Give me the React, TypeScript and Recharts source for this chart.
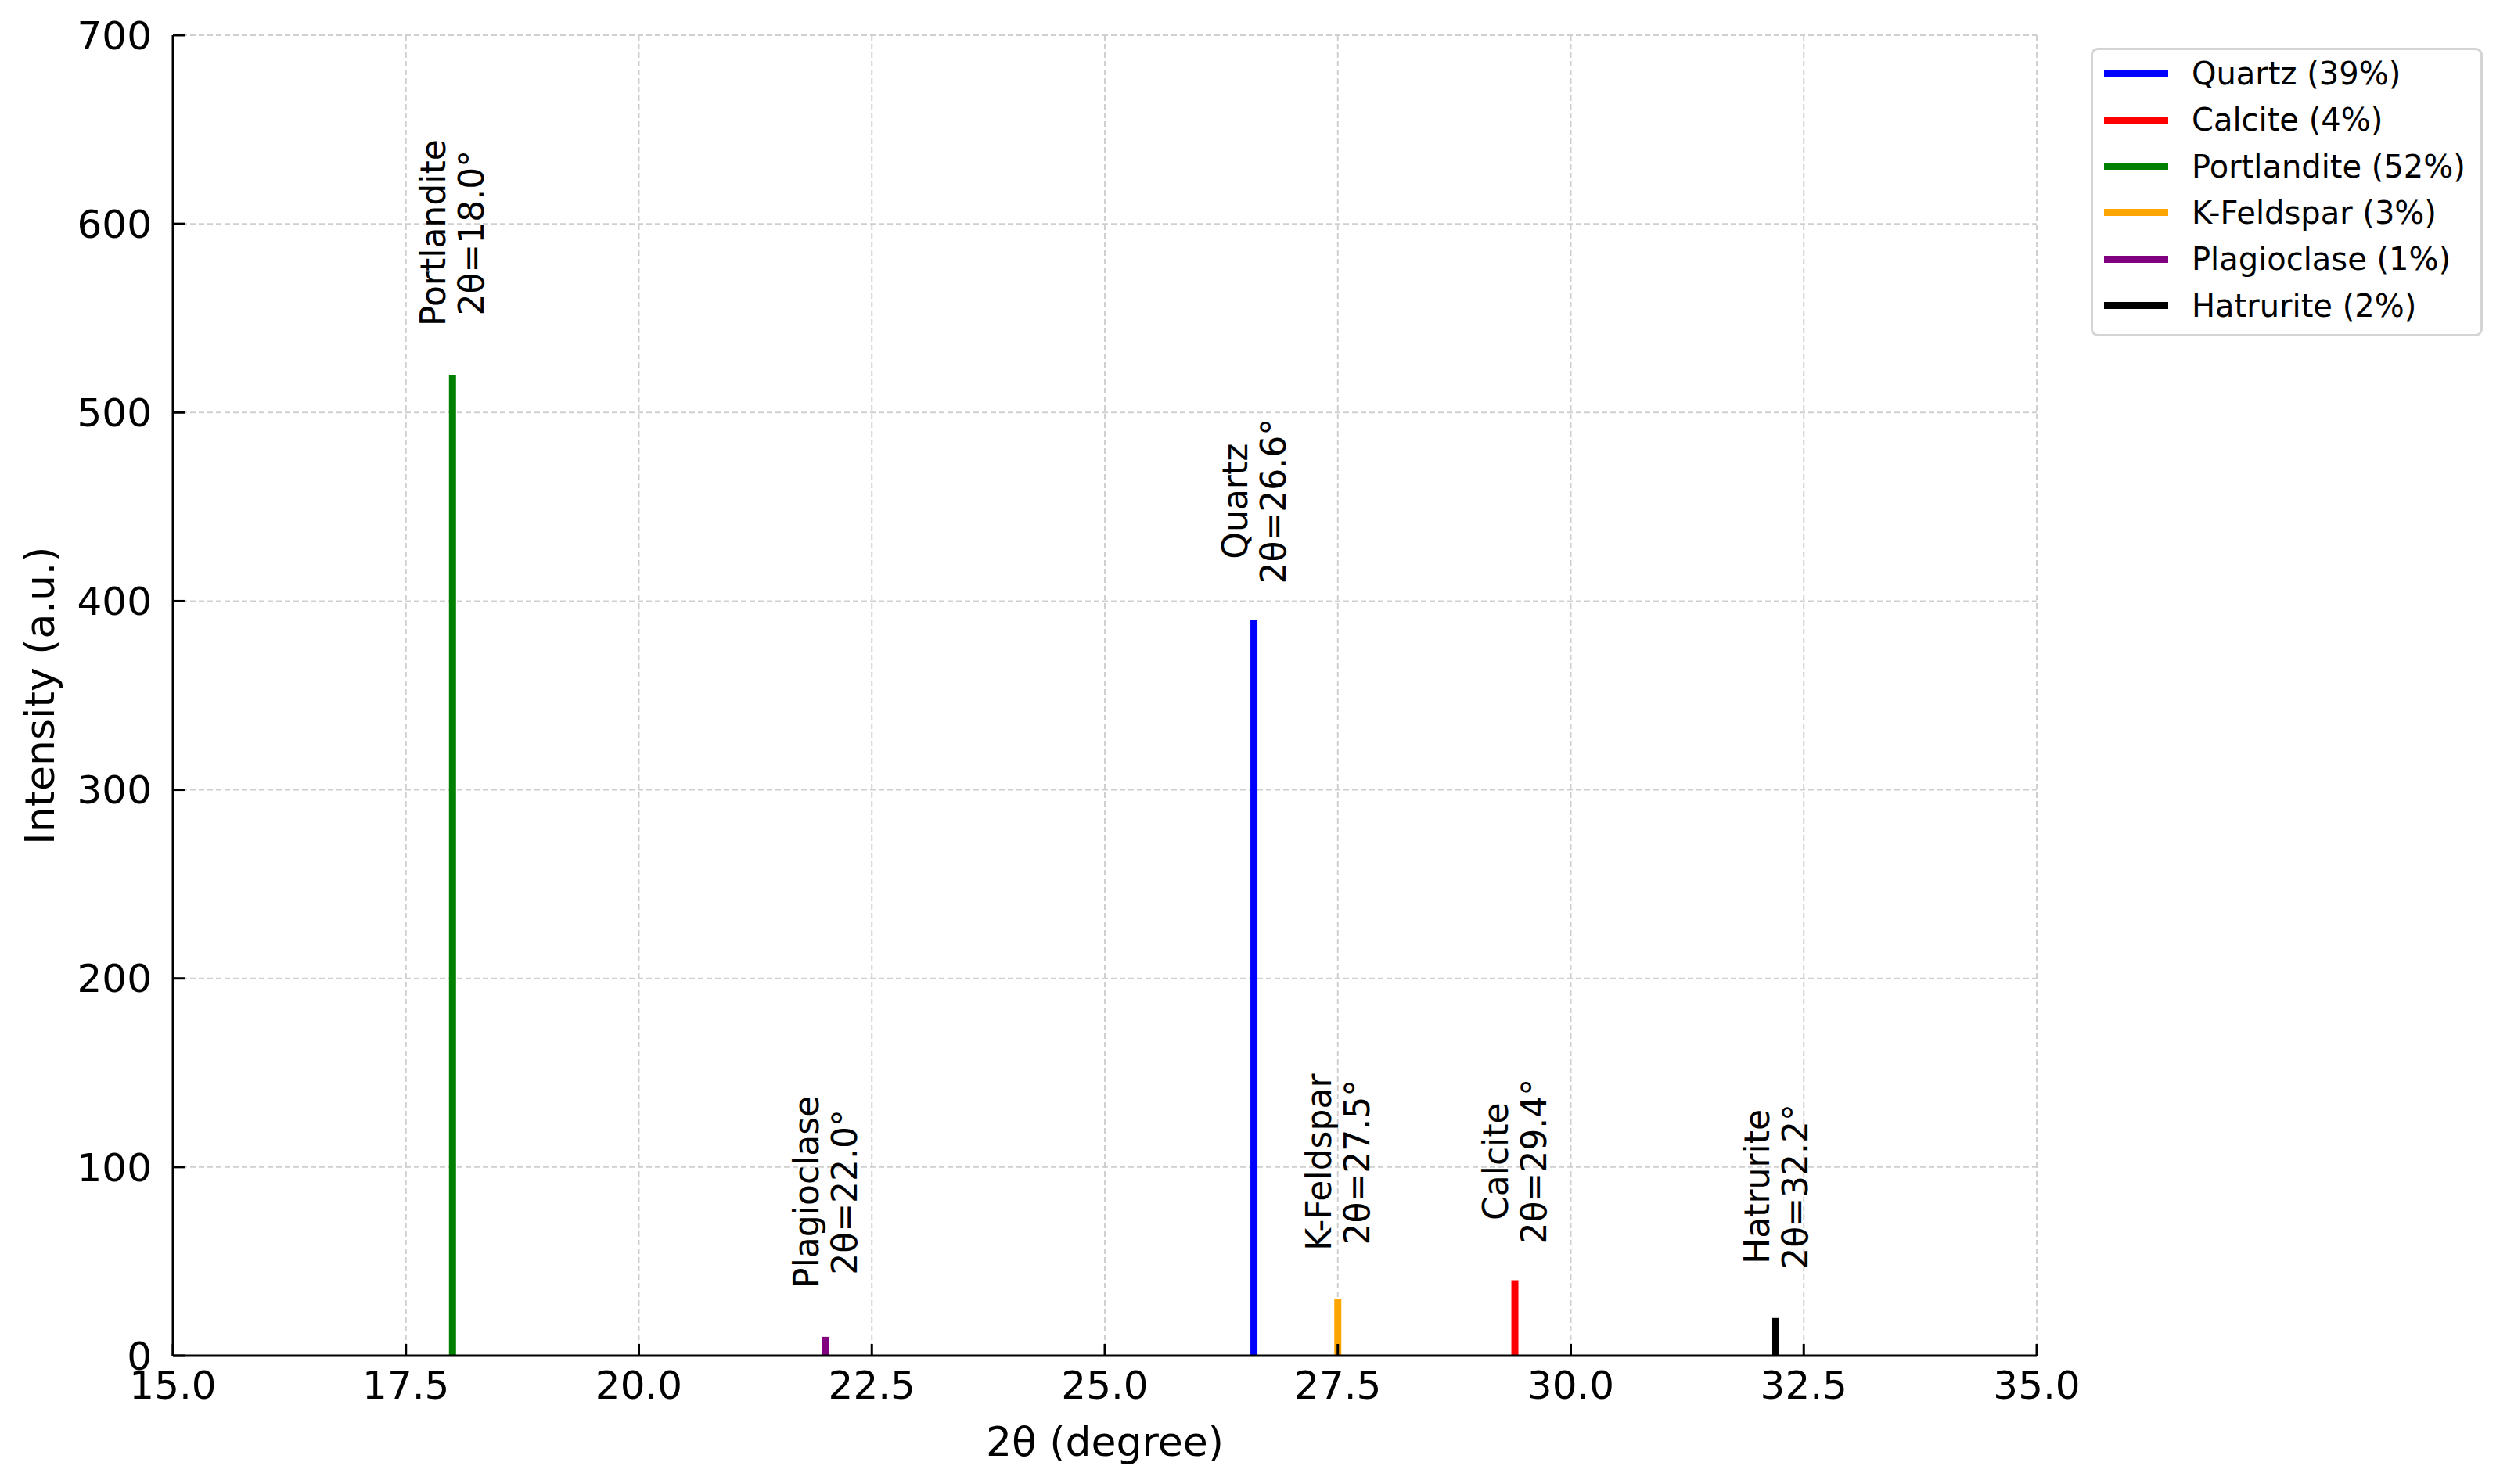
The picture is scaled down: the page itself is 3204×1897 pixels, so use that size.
import React from 'react';
import { LineChart, Line, XAxis, YAxis, CartesianGrid, Legend, Label } from 'recharts';

// ---- data ----
const minerals = ['Quartz', 'Calcite', 'Portlandite', 'K-Feldspar', 'Plagioclase', 'Hatrurite'];
const peakPositions = [26.6, 29.4, 18.0, 27.5, 22.0, 32.2];
const peakIntensities = [390, 40, 520, 30, 10, 20];
const percentages = [39, 4, 52, 3, 1, 2];
const colors = ['#0000ff', '#ff0000', '#008000', '#ffa500', '#800080', '#000000'];
const xTicks = [15.0, 17.5, 20.0, 22.5, 25.0, 27.5, 30.0, 32.5, 35.0];
const yTicks = [0, 100, 200, 300, 400, 500, 600, 700];
const xLabel = '2θ (degree)';
const yLabel = 'Intensity (a.u.)';

// ---- layout / style ----
const W = 3204;
const H = 1897;
const PLOT_LEFT = 221;
const PLOT_TOP = 45;
const PLOT_RIGHT = 2603;
const PLOT_BOTTOM = 1733;
const FONT = '"DejaVu Sans", Verdana, sans-serif';
const ANN_FONT = 44;
const ANN_LINE_GAP = 49;
const LABEL_GAP: Record<string, number> = { Quartz: 46, Calcite: 46 };
const DEFAULT_GAP = 62;

let measureCtx: CanvasRenderingContext2D | null = null;
function textWidth(s: string, size: number) {
  if (!measureCtx) {
    const c = document.createElement('canvas');
    measureCtx = c.getContext('2d');
  }
  if (!measureCtx) return s.length * size * 0.6;
  measureCtx.font = `${size}px "DejaVu Sans"`;
  return measureCtx.measureText(s).width;
}

const series = minerals.map((name, i) => ({
  name,
  color: colors[i],
  pct: percentages[i],
  pos: peakPositions[i],
  data: [
    { x: peakPositions[i], y: 0 },
    { x: peakPositions[i], y: peakIntensities[i] },
  ],
}));

function makePeakLabel(name: string, pos: number) {
  return (props: any) => {
    const { x, y, index } = props;
    if (index !== 1 || x == null || y == null) return <g key={`e-${name}-${index}`} />;
    const l1 = name;
    const l2 = `2θ=${pos.toFixed(1)}°`;
    const lmax = Math.max(textWidth(l1, ANN_FONT), textWidth(l2, ANN_FONT));
    const gap = LABEL_GAP[name] ?? DEFAULT_GAP;
    const cy = y - gap - lmax / 2;
    const x1 = x - ANN_LINE_GAP / 2;
    const x2 = x + ANN_LINE_GAP / 2;
    return (
      <g key={`lab-${name}`}>
        <text
          x={x1}
          y={cy}
          transform={`rotate(-90, ${x1}, ${cy})`}
          textAnchor="middle"
          dominantBaseline="central"
          fontSize={ANN_FONT}
          fontFamily={FONT}
          fill="#000"
        >
          {l1}
        </text>
        <text
          x={x2}
          y={cy}
          transform={`rotate(-90, ${x2}, ${cy})`}
          textAnchor="middle"
          dominantBaseline="central"
          fontSize={ANN_FONT}
          fontFamily={FONT}
          fill="#000"
        >
          {l2}
        </text>
      </g>
    );
  };
}

const LegendBox = () => {
  const rowH = 59.3;
  return (
    <div
      style={{
        boxSizing: 'border-box',
        width: 501,
        height: 369,
        border: '3px solid #d4d4d4',
        borderRadius: 9,
        background: '#fff',
        position: 'relative',
        fontFamily: FONT,
        fontSize: 40,
        color: '#000',
      }}
    >
      {series.map((s, i) => {
        const cy = 30 + i * rowH;
        return (
          <div key={s.name}>
            <div
              style={{
                position: 'absolute',
                left: 14,
                top: cy - 4.5,
                width: 82,
                height: 9,
                background: s.color,
              }}
            />
            <div
              style={{
                position: 'absolute',
                left: 126,
                top: cy - 30,
                height: 60,
                lineHeight: '60px',
                whiteSpace: 'nowrap',
              }}
            >
              {`${s.name} (${s.pct}%)`}
            </div>
          </div>
        );
      })}
    </div>
  );
};

export default function App() {
  const plotH = PLOT_BOTTOM - PLOT_TOP;
  return (
    <div style={{ position: 'absolute', left: 0, top: 0, width: W, height: H, background: '#fff', fontFamily: FONT }}>
      <LineChart
        width={W}
        height={H}
        margin={{ top: PLOT_TOP, right: W - PLOT_RIGHT, left: 0, bottom: 0 }}
      >
        <CartesianGrid stroke="#cfcfcf" strokeWidth={2} strokeDasharray="7 4" />
        <XAxis
          dataKey="x"
          type="number"
          domain={[15, 35]}
          ticks={xTicks}
          allowDataOverflow
          height={H - PLOT_BOTTOM}
          tickFormatter={(v: number) => v.toFixed(1)}
          tick={{ fill: '#000', fontSize: 50, fontFamily: FONT }}
          axisLine={{ stroke: '#000', strokeWidth: 3 }}
          tickLine={{ stroke: '#000', strokeWidth: 3 }}
          tickSize={-15}
          tickMargin={34}
          interval={0}
        >
          <Label
            content={() => (
              <text
                x={(PLOT_LEFT + PLOT_RIGHT) / 2}
                y={1843}
                textAnchor="middle"
                dominantBaseline="central"
                fontSize={52}
                fontFamily={FONT}
                fill="#000"
              >
                {xLabel}
              </text>
            )}
          />
        </XAxis>
        <YAxis
          type="number"
          domain={[0, 700]}
          ticks={yTicks}
          allowDataOverflow
          width={PLOT_LEFT}
          tick={{ fill: '#000', fontSize: 50, fontFamily: FONT }}
          axisLine={{ stroke: '#000', strokeWidth: 3 }}
          tickLine={{ stroke: '#000', strokeWidth: 3 }}
          tickSize={-15}
          tickMargin={42}
          interval={0}
        >
          <Label
            content={() => (
              <text
                x={51}
                y={PLOT_TOP + plotH / 2}
                transform={`rotate(-90, 51, ${PLOT_TOP + plotH / 2})`}
                textAnchor="middle"
                dominantBaseline="central"
                fontSize={52}
                fontFamily={FONT}
                fill="#000"
              >
                {yLabel}
              </text>
            )}
          />
        </YAxis>
        <Legend
          layout="horizontal"
          verticalAlign="middle"
          align="center"
          content={() => <LegendBox />}
          wrapperStyle={{ left: 2672, top: 61, width: 501, height: 369, bottom: 'auto', right: 'auto' }}
        />
        {series.map((s) => (
          <Line
            key={s.name}
            name={`${s.name} (${s.pct}%)`}
            data={s.data}
            dataKey="y"
            type="linear"
            stroke={s.color}
            strokeWidth={9}
            dot={false}
            activeDot={false}
            isAnimationActive={false}
            label={makePeakLabel(s.name, s.pos)}
          />
        ))}
      </LineChart>
    </div>
  );
}
